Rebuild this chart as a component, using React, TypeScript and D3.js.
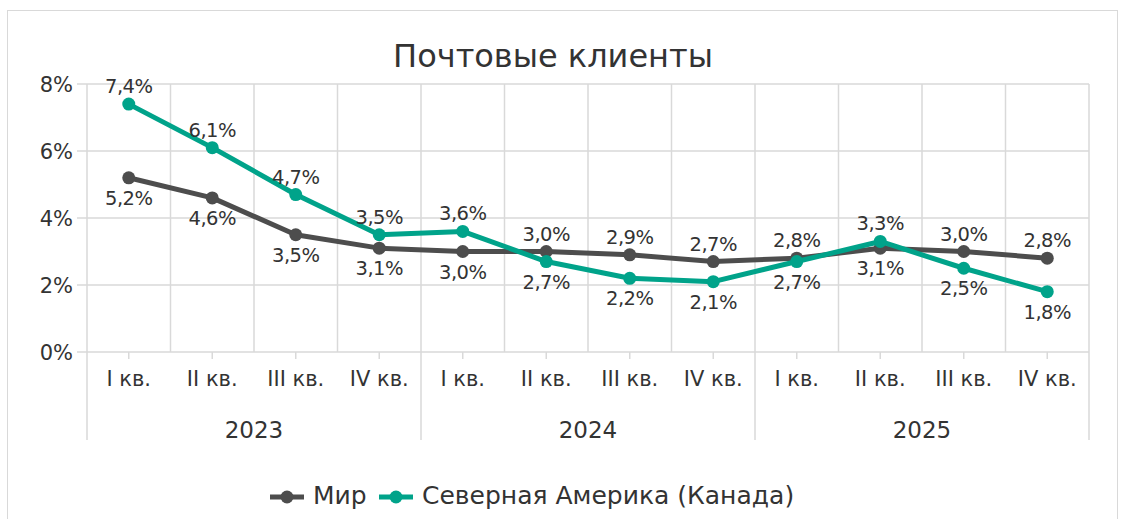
import React from "react";
import * as d3 from "d3";

const quarters = ["I кв.", "II кв.", "III кв.", "IV кв.", "I кв.", "II кв.", "III кв.", "IV кв.", "I кв.", "II кв.", "III кв.", "IV кв."];
const years = ["2023", "2024", "2025"];
const worldValues = [5.2, 4.6, 3.5, 3.1, 3.0, 3.0, 2.9, 2.7, 2.8, 3.1, 3.0, 2.8];
const naValues = [7.4, 6.1, 4.7, 3.5, 3.6, 2.7, 2.2, 2.1, 2.7, 3.3, 2.5, 1.8];
const worldLabelSide = ["b", "b", "b", "b", "b", "a", "a", "a", "a", "b", "a", "a"];
const naLabelSide = ["a", "a", "a", "a", "a", "b", "b", "b", "b", "a", "b", "b"];
const yTicks = [0, 2, 4, 6, 8];
const seriesNames = ["Мир", "Северная Америка (Канада)"];

const W = 1122, H = 519;
const left = 87, right = 1089, top = 84, bottom = 352;
const FONT = "'DejaVu Sans', sans-serif";
const GRAY = "#4d4d4d";
const TEAL = "#00a38a";
const GRID = "#d9d9d9";
const TEXT = "#333333";

export default function App() {
  const x = d3.scaleBand<number>().domain(d3.range(quarters.length)).range([left, right]).padding(0);
  const y = d3.scaleLinear().domain([0, 8]).range([bottom, top]);
  const cx = (i: number) => (x(i) as number) + x.bandwidth() / 2;
  const line = d3.line<number>().x((_, i) => cx(i)).y((d) => y(d));
  const fmt = (v: number) => v.toFixed(1).replace(".", ",") + "%";
  const series = [
    { vals: worldValues, color: GRAY, side: worldLabelSide },
    { vals: naValues, color: TEAL, side: naLabelSide },
  ];
  const groupW = x.bandwidth() * 4;

  return (
    <svg width={W} height={H} style={{ position: "absolute", left: 0, top: 0, background: "#fff" }} fontFamily={FONT}>
      <rect x={7.5} y={10.5} width={1110} height={520} fill="#fff" stroke={GRID} strokeWidth={1} />
      <text x={553} y={67} textAnchor="middle" fontSize={32} fill={TEXT}>Почтовые клиенты</text>
      {/* horizontal grid */}
      {yTicks.map((t) => (
        <g key={t}>
          <line x1={left - 10} x2={right} y1={y(t)} y2={y(t)} stroke={GRID} strokeWidth={1.5} />
          <text x={left - 14} y={y(t) + 7.5} textAnchor="end" fontSize={21} fill={TEXT}>{t}%</text>
        </g>
      ))}
      {/* vertical grid at category boundaries */}
      {d3.range(quarters.length + 1).map((i) => {
        const xx = i === quarters.length ? right : (x(i) as number);
        const isGroup = i % 4 === 0;
        return <line key={i} x1={xx} x2={xx} y1={top} y2={isGroup ? 440 : bottom} stroke={GRID} strokeWidth={1.5} />;
      })}
      {/* category ticks and labels */}
      {quarters.map((q, i) => (
        <g key={i}>
          <line x1={cx(i)} x2={cx(i)} y1={bottom} y2={bottom + 7} stroke={GRID} strokeWidth={1.5} />
          <text x={cx(i)} y={386} textAnchor="middle" fontSize={21} fill={TEXT}>{q}</text>
        </g>
      ))}
      {years.map((yr, k) => (
        <text key={yr} x={left + groupW * k + groupW / 2} y={438} textAnchor="middle" fontSize={23} fill={TEXT}>{yr}</text>
      ))}
      {/* lines */}
      {series.map((s, si) => (
        <g key={si}>
          <path d={line(s.vals) || ""} fill="none" stroke={s.color} strokeWidth={5} strokeLinejoin="round" strokeLinecap="round" />
          {s.vals.map((v, i) => (
            <circle key={i} cx={cx(i)} cy={y(v)} r={6.5} fill={s.color} />
          ))}
        </g>
      ))}
      {/* data labels */}
      {series.map((s, si) =>
        s.vals.map((v, i) => (
          <text key={`${si}-${i}`} x={cx(i)} y={s.side[i] === "a" ? y(v) - 11 : y(v) + 27} textAnchor="middle" fontSize={19.5} letterSpacing={-0.5} fill={TEXT}>
            {fmt(v)}
          </text>
        ))
      )}
      {/* legend */}
      <g>
        <line x1={270} x2={304} y1={497} y2={497} stroke={GRAY} strokeWidth={5} />
        <circle cx={287} cy={497} r={6.5} fill={GRAY} />
        <text x={313} y={504} fontSize={25} fill={TEXT}>{seriesNames[0]}</text>
        <line x1={379} x2={413} y1={497} y2={497} stroke={TEAL} strokeWidth={5} />
        <circle cx={396} cy={497} r={6.5} fill={TEAL} />
        <text x={422} y={504} fontSize={25} fill={TEXT}>{seriesNames[1]}</text>
      </g>
    </svg>
  );
}
